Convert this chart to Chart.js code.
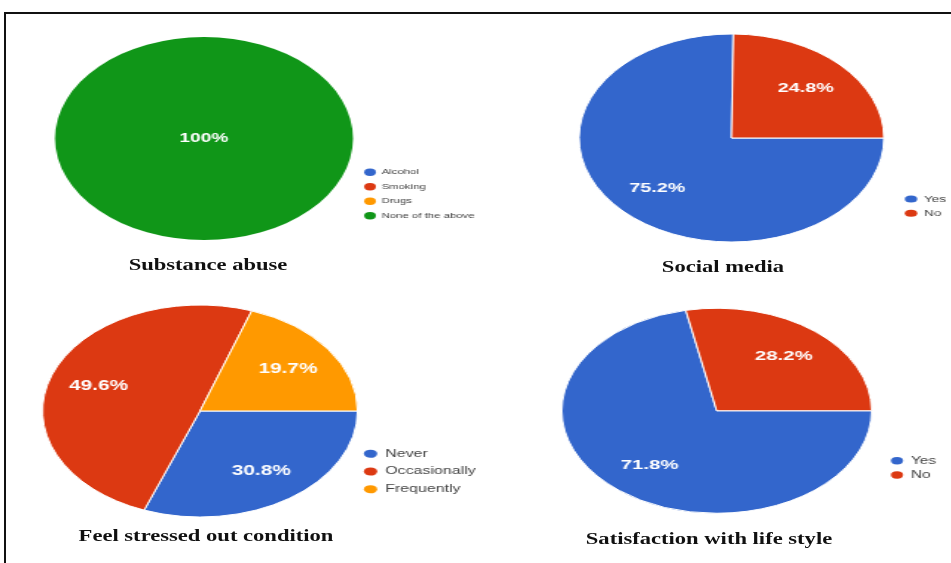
<!DOCTYPE html>
<html><head><meta charset="utf-8">
<script src="https://cdn.jsdelivr.net/npm/chart.js@4/dist/chart.umd.min.js"></script>
<style>
html,body{margin:0;padding:0;background:#fff;width:951px;height:563px;overflow:hidden;position:relative}
.frame{position:absolute;left:4px;top:12px;width:1000px;height:600px;border-left:2px solid #111;border-top:2px solid #111;}
canvas.c{position:absolute;left:0;top:0;transform-origin:0 0;}
.t{position:absolute;width:400px;text-align:center;font-family:"Liberation Serif","Times New Roman",serif;font-weight:bold;font-size:17.5px;line-height:17.5px;color:#111;transform:scaleX(1.29);transform-origin:50% 50%;white-space:nowrap}
</style></head><body>
<div class="frame"></div>
<canvas id="c1" class="c"></canvas>
<canvas id="c2" class="c"></canvas>
<canvas id="c3" class="c"></canvas>
<canvas id="c4" class="c"></canvas>
<div class="t" style="left:7.5px;top:256.3px">Substance abuse</div>
<div class="t" style="left:522.5px;top:257.8px">Social media</div>
<div class="t" style="left:6px;top:527.3px">Feel stressed out condition</div>
<div class="t" style="left:509px;top:530.3px">Satisfaction with life style</div>
<script>
// ---- data ----
const substanceLabels = ['Alcohol', 'Smoking', 'Drugs', 'None of the above'];
const substanceValues = [0, 0, 0, 100];
const socialLabels = ['Yes', 'No'];
const socialValues = [75.2, 24.8];
const stressLabels = ['Never', 'Occasionally', 'Frequently'];
const stressValues = [30.8, 49.6, 19.7];
const lifeLabels = ['Yes', 'No'];
const lifeValues = [71.8, 28.2];

const palette = ['#3366CC', '#DC3912', '#FF9900', '#109618'];

// ---- layout (page geometry of each panel) ----
const layouts = {
  c1: {cx: 204, cy: 138.5, r: 101.5, sx: 1.468, fs: 7.75, pad: 6.75, dotX: 370, lastY: 215.75, pw: 8, bh: 5.25, lf: 13, bw: 0},
  c2: {cx: 731.5, cy: 138, r: 104, sx: 1.466, fs: 9.25, pad: 5, dotX: 911, lastY: 213.25, pw: 8.5, bh: 5, lf: 13.5, bw: 1},
  c3: {cx: 200, cy: 411, r: 106, sx: 1.486, fs: 10.75, pad: 7, dotX: 370.5, lastY: 489.25, pw: 9, bh: 5.75, lf: 14, bw: 1},
  c4: {cx: 716.7, cy: 410.75, r: 102.5, sx: 1.512, fs: 10.25, pad: 4, dotX: 897, lastY: 475, pw: 8, bh: 5.25, lf: 13.5, bw: 1}
};

Chart.defaults.font.family = '"Liberation Sans", Arial, sans-serif';

const sliceLabels = {
  id: 'sliceLabels',
  afterDatasetsDraw(chart, args, opts) {
    const ctx = chart.ctx;
    const meta = chart.getDatasetMeta(0);
    const vals = chart.data.datasets[0].data;
    const total = vals.reduce((a, b) => a + b, 0);
    ctx.save();
    ctx.fillStyle = '#fff';
    ctx.font = 'bold ' + opts.size + 'px "Liberation Sans", Arial, sans-serif';
    ctx.textAlign = 'center';
    ctx.textBaseline = 'middle';
    meta.data.forEach((arc, i) => {
      const v = vals[i];
      if (!v) return;
      const p = arc.getProps(['x', 'y', 'startAngle', 'endAngle', 'outerRadius'], true);
      let x = p.x, y = p.y;
      if (v < total - 0.5) {
        const m = (p.startAngle + p.endAngle) / 2;
        x += Math.cos(m) * p.outerRadius * opts.k;
        y += Math.sin(m) * p.outerRadius * opts.k;
      }
      const txt = (Number.isInteger(v) ? String(v) : v.toFixed(1)) + '%';
      ctx.fillText(txt, x, y);
    });
    ctx.restore();
  }
};

function makeChart(id, labels, values, colors) {
  const L = layouts[id];
  const sx = L.sx, W = Math.ceil(951 / sx), H = 563;
  const cv = document.getElementById(id);
  cv.width = W; cv.height = H;
  cv.style.transform = 'scaleX(' + sx + ')';
  const ux = L.cx / sx;
  const legendLeft = L.dotX / sx - L.pad - L.pw / 2;
  const bottom = L.lastY + L.pad + L.fs / 2;
  const top = 2 * L.cy - bottom;
  const chart = new Chart(cv, {
    type: 'pie',
    data: {
      labels: labels,
      datasets: [{
        data: values,
        backgroundColor: colors,
        borderColor: '#fff',
        borderWidth: L.bw,
        radius: L.r,
        clip: false
      }]
    },
    options: {
      responsive: false,
      animation: false,
      rotation: 90,
      layout: {padding: {left: 0, right: 0, top: top, bottom: H - bottom}},
      plugins: {
        tooltip: {enabled: false},
        sliceLabels: {size: L.lf, k: 0.685},
        legend: {
          position: 'right',
          align: 'end',
          labels: {
            usePointStyle: true,
            pointStyle: 'circle',
            pointStyleWidth: L.pw,
            boxHeight: L.bh,
            padding: L.pad,
            color: '#444',
            font: {size: L.fs},
            generateLabels: (c) => Chart.overrides.pie.plugins.legend.labels.generateLabels(c).map(l => Object.assign({}, l, {lineWidth: 0}))
          }
        }
      }
    },
    plugins: [sliceLabels]
  });
  // place the legend box and the pie from the legend's measured width
  const LW = chart.legend.width;
  chart.options.layout.padding = {left: 2 * ux - legendLeft, right: W - LW - legendLeft, top: top, bottom: H - bottom};
  chart.update('none');
  return chart;
}

[['c1', substanceLabels, substanceValues, palette],
 ['c2', socialLabels, socialValues, palette.slice(0, 2)],
 ['c3', stressLabels, stressValues, palette.slice(0, 3)],
 ['c4', lifeLabels, lifeValues, palette.slice(0, 2)]].forEach(a => {
  try { makeChart(a[0], a[1], a[2], a[3]); } catch (e) { console.error(e); }
});
</script>
</body></html>
